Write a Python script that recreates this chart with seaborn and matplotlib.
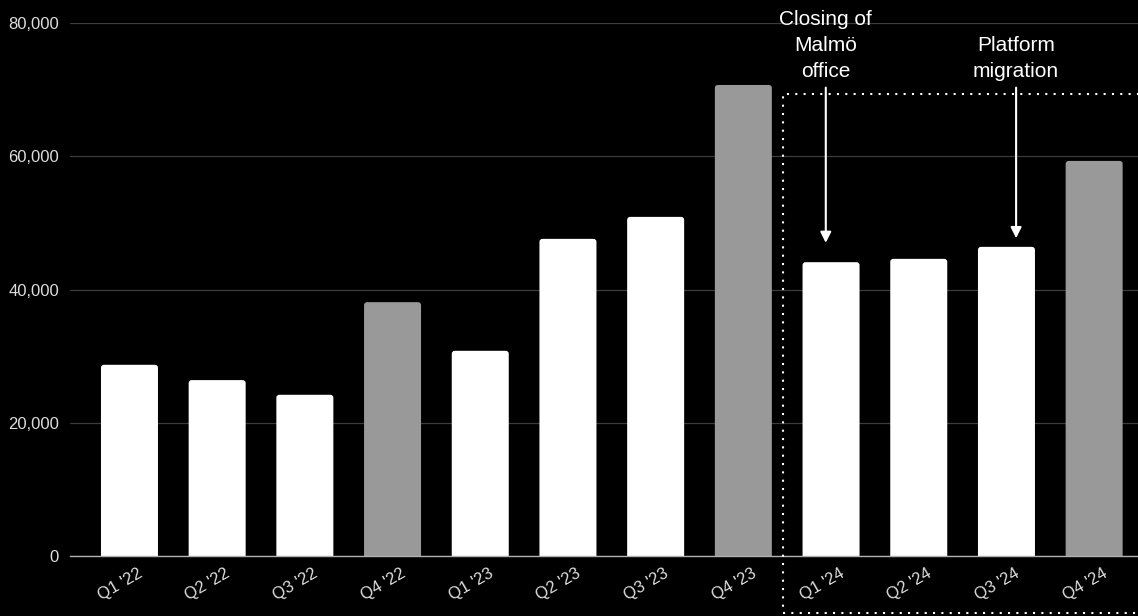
import matplotlib
matplotlib.use("Agg")
import matplotlib.pyplot as plt
from matplotlib.patches import FancyBboxPatch, Rectangle
from matplotlib.ticker import FuncFormatter
import matplotlib.transforms as mtransforms
import seaborn as sns
import pandas as pd

quarters = ["Q1 '22", "Q2 '22", "Q3 '22", "Q4 '22",
            "Q1 '23", "Q2 '23", "Q3 '23", "Q4 '23",
            "Q1 '24", "Q2 '24", "Q3 '24", "Q4 '24"]
values = [28700, 26400, 24200, 38100,
          30800, 47600, 50900, 70700,
          44100, 44600, 46400, 59300]
kinds = ["regular", "regular", "regular", "q4",
         "regular", "regular", "regular", "q4",
         "regular", "regular", "regular", "q4"]

events = ["Closing of\nMalmö\noffice", "Platform\nmigration"]
event_x = [7.94, 10.11]
event_tip = [47000, 47700]

palette = {"regular": "#ffffff", "q4": "#999999"}

sns.set_theme(style="dark")
plt.rcParams["font.family"] = ["Liberation Sans", "DejaVu Sans"]

df = pd.DataFrame({"quarter": quarters, "value": values, "kind": kinds})

fig = plt.figure(figsize=(11.38, 6.16), dpi=100, facecolor="black")
ax = fig.add_axes([70 / 1138, 1 - 556 / 616, 1 - 70 / 1138, (556 - 23) / 616])
ax.set_facecolor("black")

sns.barplot(data=df, x="quarter", y="value", hue="kind", palette=palette,
            width=0.65, dodge=False, legend=False, saturation=1, ax=ax)

ax.set_xlim(-0.678, 11.5)
ax.set_ylim(0, 80000)

# swap plain rectangles for bars with softly rounded corners
r_px = 3.0
x_per_px = (11.5 + 0.678) / 1068
y_per_px = 80000 / 533
for p in list(ax.patches):
    x0, w = p.get_x(), p.get_width()
    h = p.get_height()
    fc = p.get_facecolor()
    p.remove()
    fb = FancyBboxPatch((x0, -600), w, h + 600,
                        boxstyle=f"round,pad=0,rounding_size={r_px * x_per_px}",
                        mutation_aspect=y_per_px / x_per_px,
                        facecolor=fc, edgecolor="none", zorder=2)
    ax.add_patch(fb)

ax.set_yticks([0, 20000, 40000, 60000, 80000])
ax.yaxis.set_major_formatter(FuncFormatter(lambda v, _: f"{int(v):,}"))
ax.grid(axis="y", color="#3c3c3c", linewidth=0.9, zorder=0)
ax.grid(axis="x", visible=False)
ax.set_axisbelow(True)
for side in ["top", "right", "left"]:
    ax.spines[side].set_visible(False)
ax.spines["bottom"].set_color("#b0b0b0")
ax.spines["bottom"].set_linewidth(1.0)
ax.spines["bottom"].set_zorder(3)

ax.tick_params(axis="y", length=0, pad=8, labelsize=12, labelcolor="#dddddd")
ax.tick_params(axis="x", length=0, pad=7, labelsize=12, labelcolor="#dddddd")
ax.set_xlabel("")
ax.set_ylabel("")

offset = mtransforms.ScaledTranslation(8 / 100, 0, fig.dpi_scale_trans)
for lab in ax.get_xticklabels():
    lab.set_rotation(30)
    lab.set_ha("right")
    lab.set_rotation_mode("anchor")
    lab.set_transform(lab.get_transform() + offset)

# dotted frame around the 2024 quarters
frame = Rectangle((7.45, -8550), 6.0, 69300 + 8550, fill=False,
                  edgecolor="white", linewidth=1.5, linestyle=(0, (1, 3)),
                  clip_on=False, zorder=4)
ax.add_patch(frame)

# event annotations
for label, xe, tip in zip(events, event_x, event_tip):
    ax.annotate("", xy=(xe, tip), xytext=(xe, 70300),
                arrowprops=dict(arrowstyle="-|>", color="white", lw=1.5,
                                mutation_scale=16, shrinkA=0, shrinkB=0),
                annotation_clip=False, zorder=5)
    ax.text(xe, 71300, label, ha="center", va="bottom", color="white",
            fontsize=15, linespacing=1.48, clip_on=False, zorder=5)

fig.savefig("out.png", dpi=100, facecolor="black")
